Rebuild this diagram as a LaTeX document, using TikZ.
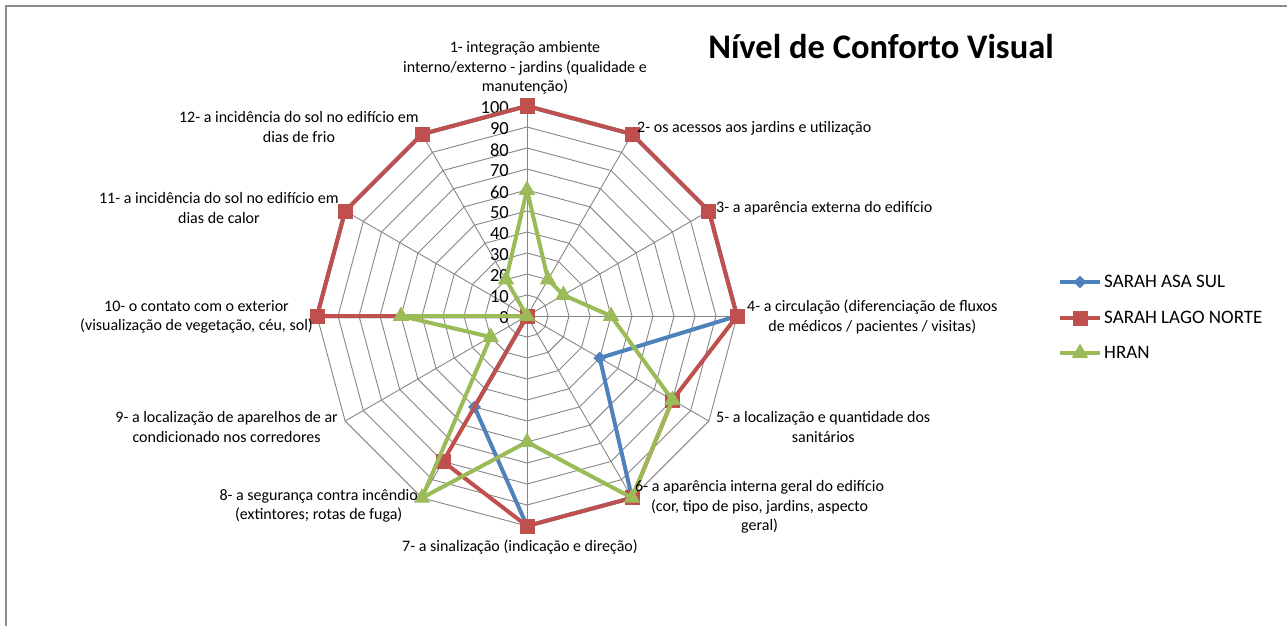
\documentclass[tikz,border=0pt]{standalone}
\usepackage{fontspec}
\setmainfont{Carlito}
\usetikzlibrary{shapes.geometric,calc}
\definecolor{asasul}{HTML}{4F81BD}
\definecolor{lagonorte}{HTML}{C0504D}
\definecolor{hran}{HTML}{9BBB59}
\definecolor{gridgray}{HTML}{868686}
\definecolor{framegray}{HTML}{8C8C8C}

\begin{document}
\begin{tikzpicture}[x=1pt,y=1pt,
  gridline/.style={draw=gridgray, line width=0.9pt},
  serie/.style={line width=4pt, line join=round},
  bluemark/.style={diamond, fill=asasul, inner sep=0pt, minimum size=13pt},
  redmark/.style={rectangle, fill=lagonorte, inner sep=0pt, minimum size=15pt},
  greenmark/.style={regular polygon, regular polygon sides=3, fill=hran, inner sep=0pt, minimum size=19pt},
  catlabel/.style={font=\fontsize{16}{19.5}\selectfont, align=center, inner sep=1pt},
  valuelabel/.style={font=\fontsize{18.5}{20}\selectfont, inner sep=1pt, anchor=east},
  legendtext/.style={font=\fontsize{19}{22}\selectfont, inner sep=1pt, anchor=west}]
\useasboundingbox (0,0) rectangle (1287,-626);
\fill[white] (0,0) rectangle (1287,-626);
\draw[framegray, line width=2pt] (6,-700) rectangle (1320,-6);

% title
\node[font=\fontsize{34.5}{40}\selectfont\bfseries] (title) at (881,-47) {Nível de Conforto Visual};

\begin{scope}[shift={(527,-316)}]
% grid
\foreach \r in {21,42,...,210}
  \draw[gridline] (90:\r) \foreach \k in {1,...,11}{ -- ({90-30*\k}:\r)} -- cycle;
\foreach \k in {1,...,12} {
  \coordinate (ax\k) at ({120-30*\k}:210);
  \draw[gridline] (0,0) -- (ax\k);
}
\foreach \v in {0,10,...,100}
  \node[valuelabel] at (-17,{2.1*\v-2}) {\v};

% series
\foreach \v [count=\i] in {100,100,100,100,40,100,100,50,0,100,100,100}
  \coordinate (asa\i) at ({120-30*\i}:{2.1*\v});
\foreach \v [count=\i] in {100,100,100,100,80,100,100,80,0,100,100,100}
  \coordinate (lago\i) at ({120-30*\i}:{2.1*\v});
\foreach \v [count=\i] in {60,20,20,40,80,100,60,100,20,60,0,20}
  \coordinate (hran\i) at ({120-30*\i}:{2.1*\v});

\draw[serie, asasul] (asa1) \foreach \i in {2,...,12}{ -- (asa\i)} -- cycle;
\foreach \i in {1,...,12} \node[bluemark] at (asa\i) {};
\draw[serie, lagonorte] (lago1) \foreach \i in {2,...,12}{ -- (lago\i)} -- cycle;
\foreach \i in {1,...,12} \node[redmark] at (lago\i) {};
\draw[serie, hran] (hran1) \foreach \i in {2,...,12}{ -- (hran\i)} -- cycle;
\foreach \i in {1,...,12} \node[greenmark] at (hran\i) {};
\end{scope}

% category labels
\node[catlabel] (cat1) at (525,-68) {1- integração ambiente\\interno/externo - jardins (qualidade e\\manutenção)};
\node[catlabel, anchor=west] (cat2) at (636,-128) {2- os acessos aos jardins e utilização};
\node[catlabel, anchor=west] (cat3) at (715,-208) {3- a aparência externa do edifício};
\node[catlabel, anchor=west] (cat4) at (746,-317) {4- a circulação (diferenciação de fluxos\\de médicos / pacientes / visitas)};
\node[catlabel, anchor=west] (cat5) at (715,-427) {5- a localização e quantidade dos\\sanitários};
\node[catlabel, anchor=west] (cat6) at (634,-507) {6- a aparência interna geral do edifício\\(cor, tipo de piso, jardins, aspecto\\geral)};
\node[catlabel] (cat7) at (520,-547) {7- a sinalização (indicação e direção)};
\node[catlabel, anchor=east] (cat8) at (419,-506) {8- a segurança contra incêndio\\(extintores; rotas de fuga)};
\node[catlabel, anchor=east] (cat9) at (339,-427) {9- a localização de aparelhos de ar\\condicionado nos corredores};
\node[catlabel, anchor=east] (cat10) at (314,-317) {10- o contato com o exterior\\(visualização de vegetação, céu, sol)};
\node[catlabel, anchor=east] (cat11) at (340,-208) {11- a incidência do sol no edifício em\\dias de calor};
\node[catlabel, anchor=east] (cat12) at (420,-127) {12- a incidência do sol no edifício em\\dias de frio};

% legend
\coordinate (lega) at (1060,-282); \coordinate (legb) at (1100,-282);
\coordinate (legc) at (1060,-318); \coordinate (legd) at (1100,-318);
\coordinate (lege) at (1060,-353); \coordinate (legf) at (1100,-353);
\draw[serie, asasul] (lega) -- (legb);
\node[bluemark] at ($(lega)!0.5!(legb)$) {};
\draw[serie, lagonorte] (legc) -- (legd);
\node[redmark] at ($(legc)!0.5!(legd)$) {};
\draw[serie, hran] (lege) -- (legf);
\node[greenmark] at ($(lege)!0.5!(legf)$) {};
\node[legendtext] (leg1) at (1103,-281) {SARAH ASA SUL};
\node[legendtext] (leg2) at (1103,-317) {SARAH LAGO NORTE};
\node[legendtext] (leg3) at (1103,-352) {HRAN};
\end{tikzpicture}
\end{document}
